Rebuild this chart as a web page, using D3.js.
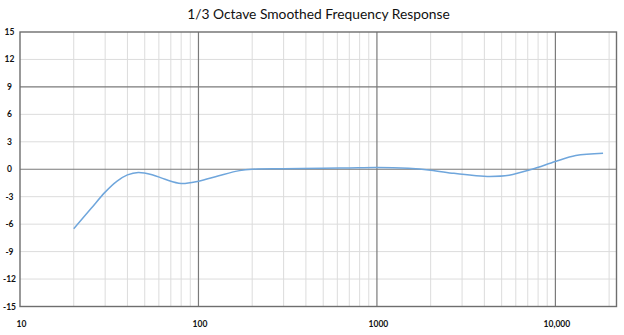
<!DOCTYPE html>
<html><head><meta charset="utf-8">
<script src="https://cdn.jsdelivr.net/npm/d3@7"></script>
<style>body{margin:0;background:#fff}svg{display:block}</style>
</head><body><svg id="c" width="624" height="335"></svg>
<script>
const title = "1/3 Octave Smoothed Frequency Response";
const freqs = [20,25,30,35,40,46,55,65,80,100,130,170,200,300,500,700,1000,1500,2000,2700,3500,4300,5500,7400,10000,13000,18500];
const dB    = [-6.5,-4.3,-2.5,-1.3,-0.62,-0.35,-0.6,-1.1,-1.55,-1.3,-0.7,-0.15,0.0,0.05,0.1,0.15,0.2,0.1,-0.1,-0.45,-0.68,-0.78,-0.65,0.0,0.85,1.5,1.75];
const yTicks = [15,12,9,6,3,0,-3,-6,-9,-12,-15];
const yMajor = [9,0];
const xLabels = [10,100,1000,10000];
const xLabelText = ["10","100","1000","10,000"];

const svg = d3.select("#c");
const x = d3.scaleLog().domain([10,22000]).range([20,616.5]);
const y = d3.scaleLinear().domain([-15,15]).range([306.5,32]);

svg.append("text").attr("x",318.5).attr("y",19).attr("text-anchor","middle")
  .attr("font-family","Lato, 'Open Sans', sans-serif").attr("font-size",13.8).attr("fill","#111").text(title);

const minors = [];
for (let d=10; d<=10000; d*=10) for (let k=2;k<=9;k++){ const f=d*k; if (f<22000) minors.push(f); }
svg.append("g").selectAll("line").data(minors).join("line")
  .attr("x1",d=>x(d)).attr("x2",d=>x(d)).attr("y1",y(15)).attr("y2",y(-15))
  .attr("stroke","#dcdcdc").attr("stroke-width",1);
svg.append("g").selectAll("line").data(yTicks.filter(t=>Math.abs(t)!==15)).join("line")
  .attr("x1",x(10)).attr("x2",x(22000)).attr("y1",d=>y(d)).attr("y2",d=>y(d))
  .attr("stroke",d=>yMajor.includes(d)?"#7a7a7a":"#dcdcdc").attr("stroke-width",d=>yMajor.includes(d)?1.2:1);
svg.append("g").selectAll("line").data([100,1000,10000]).join("line")
  .attr("x1",d=>x(d)).attr("x2",d=>x(d)).attr("y1",y(15)).attr("y2",y(-15))
  .attr("stroke","#7a7a7a").attr("stroke-width",1.2);
svg.append("rect").attr("x",x(10)).attr("y",y(15)).attr("width",x(22000)-x(10)).attr("height",y(-15)-y(15))
  .attr("fill","none").attr("stroke","#6e6e6e").attr("stroke-width",1.4);

const line = d3.line().x((d,i)=>x(freqs[i])).y(d=>y(d)).curve(d3.curveCatmullRom.alpha(0.5));
svg.append("path").datum(dB).attr("d",line).attr("fill","none").attr("stroke","#6fa6dc").attr("stroke-width",1.5);

svg.append("g").selectAll("text").data(yTicks).join("text")
  .attr("x",9.5).attr("y",d=>y(d)+3).attr("text-anchor","middle")
  .attr("font-family","Lato, 'Open Sans', sans-serif").attr("font-weight","bold").attr("font-size",8.5).attr("fill","#111")
  .text(d=>d);
svg.append("g").selectAll("text").data(xLabels).join("text")
  .attr("x",d=>x(d)+1.5).attr("y",327).attr("text-anchor","middle")
  .attr("font-family","Lato, 'Open Sans', sans-serif").attr("font-weight","bold").attr("font-size",8.5).attr("fill","#111")
  .text((d,i)=>xLabelText[i]);
</script></body></html>
